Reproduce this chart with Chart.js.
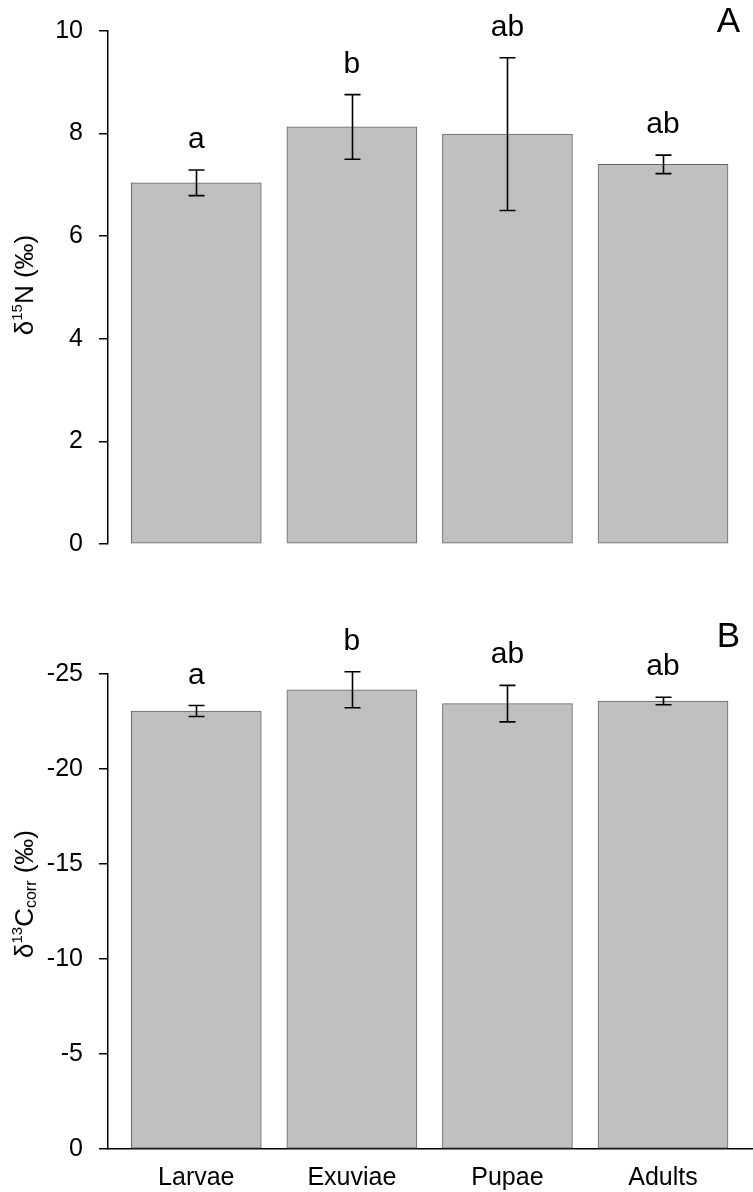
<!DOCTYPE html>
<html>
<head>
<meta charset="utf-8">
<script src="https://cdn.jsdelivr.net/npm/chart.js@4.4.1/dist/chart.umd.min.js"></script>
<style>
    html, body { margin: 0; padding: 0; background: #fff; }
    #wrap { position: relative; width: 753px; height: 1192px; }
    .panel { position: absolute; left: 0; width: 753px; }
    #panelA { top: 0; height: 575px; }
    #panelB { top: 600px; height: 592px; }
</style>
</head>
<body>
<div id="wrap">
    <div class="panel" id="panelA"><canvas id="nitrogenGraph" width="753" height="575"></canvas></div>
    <div class="panel" id="panelB"><canvas id="carbonGraph" width="753" height="592"></canvas></div>
</div>
<script>
// values
const stages = ['Larvae', 'Exuviae', 'Pupae', 'Adults'];
const nitrogenMeans = [7.04, 8.13, 7.99, 7.40];
const nitrogenErrors = [0.25, 0.63, 1.49, 0.18];
const nitrogenLetters = ['a', 'b', 'ab', 'ab'];
const carbonMeans = [-23.05, -24.17, -23.44, -23.58];
const carbonErrors = [0.29, 0.95, 0.96, 0.20];
const carbonLetters = ['a', 'b', 'ab', 'ab'];

const FONT = '"Liberation Sans", Arial, Helvetica, sans-serif';

// draws error bars with caps and the significance letters above them
const errorBarPlugin = {
    id: 'errorBars',
    afterDatasetsDraw(chart, args, opts) {
        const ctx = chart.ctx;
        const meta = chart.getDatasetMeta(0);
        const yScale = chart.scales.y;
        ctx.save();
        ctx.strokeStyle = '#000';
        ctx.fillStyle = '#000';
        ctx.lineWidth = 1.6;
        ctx.font = '30px ' + FONT;
        ctx.textAlign = 'center';
        ctx.textBaseline = 'alphabetic';
        meta.data.forEach((bar, i) => {
            const a = yScale.getPixelForValue(opts.means[i] + opts.errors[i]);
            const b = yScale.getPixelForValue(opts.means[i] - opts.errors[i]);
            const top = Math.min(a, b);
            const bottom = Math.max(a, b);
            const x = Math.round(bar.x) + 0.5;
            ctx.beginPath();
            ctx.moveTo(x, top); ctx.lineTo(x, bottom);
            ctx.moveTo(x - 8, top); ctx.lineTo(x + 8, top);
            ctx.moveTo(x - 8, bottom); ctx.lineTo(x + 8, bottom);
            ctx.stroke();
            ctx.fillText(opts.letters[i], bar.x, top - 22);
        });
        ctx.restore();
    }
};

// y title with super/subscripts, plus the panel letter
const richTitlePlugin = {
    id: 'richTitle',
    afterDraw(chart, args, opts) {
        const ctx = chart.ctx;
        ctx.save();
        ctx.fillStyle = '#000';
        let total = 0;
        const widths = opts.runs.map(r => {
            ctx.font = r.size + 'px ' + FONT;
            const w = ctx.measureText(r.text).width;
            total += w;
            return w;
        });
        ctx.translate(opts.x, opts.y);
        ctx.rotate(-Math.PI / 2);
        ctx.textBaseline = 'alphabetic';
        ctx.textAlign = 'left';
        let pos = -total / 2;
        opts.runs.forEach((r, i) => {
            ctx.font = r.size + 'px ' + FONT;
            ctx.fillText(r.text, pos, -(r.rise || 0));
            pos += widths[i];
        });
        ctx.restore();

        ctx.save();
        ctx.fillStyle = '#000';
        ctx.font = '35px ' + FONT;
        ctx.textAlign = 'right';
        ctx.textBaseline = 'alphabetic';
        ctx.fillText(opts.panel.text, opts.panel.x, opts.panel.y);
        ctx.restore();
    }
};

function bar_dataset(means) {
    return {
        data: means.map((v, i) => ({ x: i + 1, y: v })),
        backgroundColor: '#c0c0c0',
        borderColor: '#666666',
        borderWidth: 1,
        borderSkipped: false,
        barThickness: 130
    };
}

function y_scale(min, max, step, reverse) {
    return {
        min: min,
        max: max,
        reverse: reverse,
        afterFit: scale => { scale.width = 108; },
        ticks: { stepSize: step, color: '#000', font: { size: 25, family: FONT }, padding: 16 },
        grid: { drawOnChartArea: false, drawTicks: true, tickLength: 9, color: '#000', lineWidth: 1.5 },
        border: { display: true, color: '#000', width: 1.5 }
    };
}

// build config for the nitrogen panel
function _build_nitrogen_config() {
    return {
        type: 'bar',
        data: { datasets: [bar_dataset(nitrogenMeans)] },
        options: {
            responsive: false,
            animation: false,
            layout: { padding: { top: 31, bottom: 2, left: 0, right: 1 } },
            scales: {
                x: { type: 'linear', min: 0.4325, max: 4.572, offset: false, display: false },
                y: y_scale(0, 10, 2, false)
            },
            plugins: {
                legend: { display: false },
                tooltip: { enabled: false },
                errorBars: { means: nitrogenMeans, errors: nitrogenErrors, letters: nitrogenLetters },
                richTitle: {
                    x: 32.5, y: 285,
                    runs: [
                        { text: 'δ', size: 26 },
                        { text: '15', size: 15, rise: 11 },
                        { text: 'N', size: 26 },
                        { text: ' (‰)', size: 26 }
                    ],
                    panel: { text: 'A', x: 740, y: 32 }
                }
            }
        },
        plugins: [errorBarPlugin, richTitlePlugin]
    };
}

// build config for the carbon panel
function _build_carbon_config() {
    return {
        type: 'bar',
        data: { datasets: [bar_dataset(carbonMeans)] },
        options: {
            responsive: false,
            animation: false,
            layout: { padding: { top: 74, bottom: 0, left: 0, right: 1 } },
            scales: {
                x: {
                    type: 'linear',
                    min: 0.4325,
                    max: 4.572,
                    offset: false,
                    afterFit: scale => { scale.height = 43; },
                    ticks: {
                        stepSize: 1,
                        includeBounds: false,
                        color: '#000',
                        font: { size: 25, family: FONT },
                        padding: 14,
                        callback: v => Number.isInteger(v) ? (stages[v - 1] || '') : ''
                    },
                    grid: { display: false, drawTicks: false, offset: false },
                    border: { display: true, color: '#000', width: 1.5 }
                },
                y: y_scale(-25, 0, 5, true)
            },
            plugins: {
                legend: { display: false },
                tooltip: { enabled: false },
                errorBars: { means: carbonMeans, errors: carbonErrors, letters: carbonLetters },
                richTitle: {
                    x: 32.5, y: 294,
                    runs: [
                        { text: 'δ', size: 26 },
                        { text: '13', size: 15, rise: 11 },
                        { text: 'C', size: 26 },
                        { text: 'corr', size: 16, rise: -3 },
                        { text: ' (‰)', size: 26 }
                    ],
                    panel: { text: 'B', x: 740, y: 47 }
                }
            }
        },
        plugins: [errorBarPlugin, richTitlePlugin]
    };
}

const nitrogenGraph = new Chart('nitrogenGraph', _build_nitrogen_config());
const carbonGraph = new Chart('carbonGraph', _build_carbon_config());
</script>
</body>
</html>
